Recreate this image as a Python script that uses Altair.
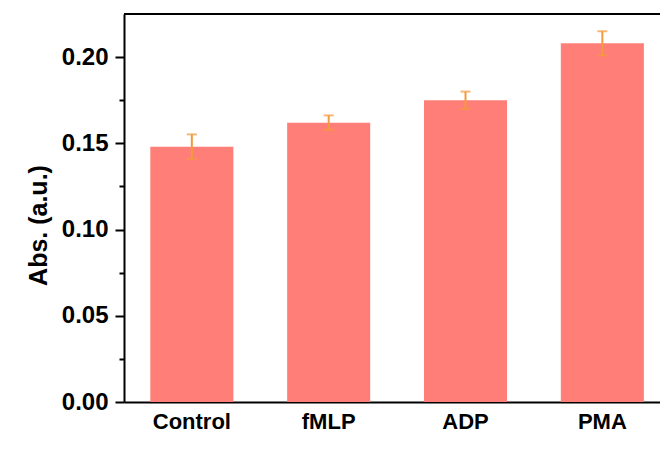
import altair as alt
import pandas as pd

categories = ["Control", "fMLP", "ADP", "PMA"]
means = [0.148, 0.162, 0.175, 0.208]
errors = [0.0072, 0.0042, 0.005, 0.007]
y_tick_values = [0.0, 0.025, 0.05, 0.075, 0.10, 0.125, 0.15, 0.175, 0.20]
y_top = 0.225

df = pd.DataFrame({"group": categories, "abs": means, "err": errors})
df["lo"] = df["abs"] - df["err"]
df["hi"] = df["abs"] + df["err"]

FONT = "Liberation Sans"
BAR = "#FF7F78"
ERR = "#F39A3C"

xscale = alt.Scale(paddingInner=0.393, paddingOuter=0.155, align=0.62)
yscale = alt.Scale(domain=[0, y_top], nice=False, zero=True)

x_main = alt.X(
    "group:N", sort=categories, scale=xscale,
    axis=alt.Axis(
        title=None, labelAngle=0, ticks=False, domainWidth=2, domainColor="black",
        labelFont=FONT, labelFontSize=22, labelFontWeight="bold", labelColor="black",
        labelPadding=9,
    ),
)
y_main = alt.Y(
    "abs:Q", scale=yscale,
    axis=alt.Axis(
        title="Abs. (a.u.)", values=y_tick_values,
        labelExpr="round(datum.value*40) % 2 == 0 ? format(datum.value, '.2f') : ''",
        tickSize={"condition": {"test": "round(datum.value*40) % 2 == 0", "value": 9}, "value": 5},
        tickWidth=2, tickColor="black", domainWidth=2, domainColor="black",
        labelFont=FONT, labelFontSize=24, labelFontWeight="bold", labelColor="black",
        labelPadding=7, grid=False,
        titleFont=FONT, titleFontSize=25, titleFontWeight="bold", titleColor="black",
        titleAngle=270, titleX=-78, titleY=211, titleAlign="center", titleBaseline="alphabetic",
    ),
)

base = alt.Chart(df)
bars = base.mark_bar(color=BAR).encode(x=x_main, y=y_main)
err_rule = base.mark_rule(color=ERR, strokeWidth=2).encode(
    x=alt.X("group:N", sort=categories, scale=xscale),
    y=alt.Y("lo:Q", scale=yscale), y2="hi:Q")
cap_lo = base.mark_tick(color=ERR, thickness=2, size=10).encode(
    x=alt.X("group:N", sort=categories, scale=xscale),
    y=alt.Y("lo:Q", scale=yscale))
cap_hi = base.mark_tick(color=ERR, thickness=2, size=10).encode(
    x=alt.X("group:N", sort=categories, scale=xscale),
    y=alt.Y("hi:Q", scale=yscale))
top_line = alt.Chart(pd.DataFrame({"top": [y_top]})).mark_rule(color="black", strokeWidth=2).encode(
    y=alt.Y("top:Q", scale=yscale))

chart = alt.layer(bars, err_rule, cap_lo, cap_hi, top_line).properties(
    width=536, height=388,
    padding={"left": 124, "top": 14, "right": 0, "bottom": 64},
    autosize="none",
    background="white",
).configure_view(stroke=None)

chart.save("out.html", embed_options={"renderer": "svg", "actions": False})
